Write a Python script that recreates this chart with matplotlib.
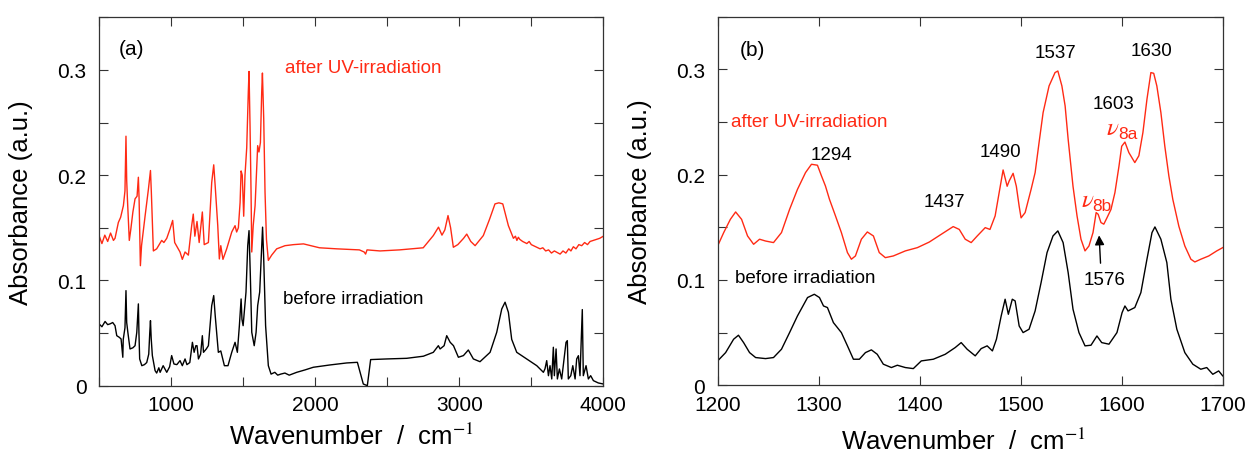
import numpy as np
import matplotlib
matplotlib.use("Agg")
import matplotlib.pyplot as plt
from matplotlib.ticker import MultipleLocator, FuncFormatter

plt.rcParams["font.family"] = ["Liberation Sans", "DejaVu Sans"]
plt.rcParams["mathtext.fontset"] = "stix"

RED = "#ff2a14"

# ---- panel (a): full range spectra, (wavenumber, absorbance)
wide_after_wn = [500, 520, 540, 560, 580, 600, 611, 634, 650, 669, 680, 687, 692, 697, 710, 720,
                 735, 750, 764, 773, 778, 787, 795, 820, 843, 857, 863, 877, 900, 935, 950, 970,
                 993, 1011, 1025, 1050, 1062, 1078, 1097, 1120, 1143, 1154, 1165, 1180, 1195, 1217,
                 1230, 1259, 1282, 1296, 1306, 1324, 1335, 1345, 1360, 1386, 1421, 1444, 1455, 1467,
                 1479, 1486, 1494, 1504, 1513, 1525, 1536, 1541, 1548, 1555, 1560, 1570, 1583, 1594,
                 1601, 1610, 1620, 1629, 1634, 1643, 1652, 1662, 1675, 1698, 1733, 1791, 1850, 1919,
                 2030, 2150, 2307, 2340, 2350, 2360, 2450, 2585, 2750, 2820, 2856, 2880, 2900, 2922,
                 2940, 2959, 2990, 3030, 3052, 3080, 3110, 3167, 3210, 3248, 3275, 3302, 3341, 3376,
                 3390, 3400, 3410, 3420, 3440, 3469, 3485, 3500, 3530, 3561, 3580, 3600, 3620, 3640,
                 3660, 3677, 3700, 3720, 3740, 3760, 3775, 3792, 3810, 3830, 3850, 3870, 3890, 3908,
                 3930, 3950, 3975, 4000]
wide_after_a = [0.1426, 0.135, 0.143, 0.137, 0.145, 0.138, 0.140, 0.155, 0.160, 0.171, 0.185, 0.237,
                0.195, 0.1775, 0.138, 0.148, 0.165, 0.1775, 0.180, 0.198, 0.1775, 0.114, 0.133, 0.1616,
                0.187, 0.2044, 0.184, 0.128, 0.130, 0.138, 0.136, 0.140, 0.149, 0.157, 0.136, 0.130,
                0.127, 0.120, 0.127, 0.124, 0.152, 0.163, 0.142, 0.156, 0.136, 0.165, 0.134, 0.136,
                0.193, 0.2098, 0.190, 0.152, 0.1204, 0.133, 0.120, 0.130, 0.146, 0.152, 0.146, 0.150,
                0.174, 0.204, 0.200, 0.161, 0.200, 0.226, 0.279, 0.2985, 0.247, 0.184, 0.127, 0.152,
                0.171, 0.206, 0.228, 0.222, 0.231, 0.279, 0.297, 0.2535, 0.184, 0.139, 0.119, 0.124,
                0.130, 0.133, 0.134, 0.1347, 0.131, 0.130, 0.129, 0.127, 0.125, 0.129, 0.128, 0.129,
                0.131, 0.1426, 0.1506, 0.143, 0.148, 0.1616, 0.150, 0.1315, 0.134, 0.140, 0.144,
                0.137, 0.133, 0.1426, 0.158, 0.1727, 0.1737, 0.1727, 0.152, 0.140, 0.142, 0.138,
                0.141, 0.139, 0.137, 0.135, 0.137, 0.134, 0.132, 0.130, 0.131, 0.128, 0.129, 0.126,
                0.128, 0.1267, 0.125, 0.128, 0.126, 0.130, 0.128, 0.132, 0.130, 0.134, 0.133, 0.136,
                0.134, 0.137, 0.138, 0.139, 0.140, 0.142]

wide_before_wn = [500, 520, 542, 560, 576, 595, 611, 623, 640, 653, 665, 668, 680, 687, 692, 700,
                  715, 735, 750, 762, 773, 777, 782, 797, 815, 831, 845, 852, 857, 862, 870, 889,
                  900, 915, 924, 945, 970, 990, 1004, 1020, 1040, 1062, 1078, 1097, 1110, 1130, 1148,
                  1160, 1172, 1180, 1190, 1205, 1217, 1225, 1245, 1259, 1282, 1296, 1306, 1328, 1345,
                  1370, 1395, 1421, 1444, 1460, 1474, 1486, 1492, 1500, 1520, 1532, 1541, 1550, 1560,
                  1577, 1590, 1601, 1615, 1629, 1635, 1643, 1656, 1675, 1694, 1720, 1740, 1761, 1790,
                  1820, 1872, 1930, 1987, 2103, 2219, 2293, 2312, 2334, 2362, 2375, 2385, 2496, 2635,
                  2751, 2820, 2855, 2867, 2895, 2913, 2937, 2960, 2994, 3029, 3063, 3098, 3144, 3214,
                  3260, 3295, 3318, 3341, 3364, 3399, 3468, 3538, 3584, 3595, 3607, 3619, 3630, 3642,
                  3653, 3660, 3672, 3681, 3695, 3711, 3727, 3741, 3750, 3757, 3774, 3788, 3804, 3815,
                  3827, 3838, 3854, 3861, 3880, 3896, 3912, 3931, 3965, 4000]
wide_before_a = [0.0587, 0.056, 0.061, 0.058, 0.0587, 0.060, 0.057, 0.0475, 0.046, 0.0444, 0.027,
                 0.044, 0.055, 0.0903, 0.060, 0.0507, 0.0349, 0.036, 0.038, 0.0507, 0.0777, 0.050,
                 0.0254, 0.019, 0.020, 0.022, 0.030, 0.050, 0.0618, 0.045, 0.0286, 0.0143, 0.012,
                 0.017, 0.0127, 0.019, 0.0127, 0.018, 0.0286, 0.0206, 0.020, 0.0238, 0.019, 0.0254,
                 0.020, 0.022, 0.0412, 0.0317, 0.038, 0.038, 0.0254, 0.030, 0.0475, 0.0317, 0.035,
                 0.038, 0.076, 0.0856, 0.067, 0.0317, 0.033, 0.019, 0.019, 0.0317, 0.0412, 0.0317,
                 0.057, 0.0824, 0.063, 0.057, 0.089, 0.133, 0.1473, 0.105, 0.0507, 0.038, 0.0507,
                 0.076, 0.089, 0.133, 0.1506, 0.120, 0.057, 0.019, 0.011, 0.0127, 0.010, 0.011, 0.012,
                 0.010, 0.0127, 0.015, 0.0175, 0.0197, 0.0216, 0.0222, 0.0127, 0.0016, 0.0, 0.0143,
                 0.0248, 0.0254, 0.026, 0.028, 0.0317, 0.038, 0.0349, 0.038, 0.0475, 0.0412, 0.038,
                 0.027, 0.0286, 0.0339, 0.0254, 0.0228, 0.0317, 0.0507, 0.0729, 0.0793, 0.0697, 0.044,
                 0.0317, 0.0254, 0.019, 0.0127, 0.016, 0.0238, 0.0095, 0.019, 0.0064, 0.0365, 0.0095,
                 0.0349, 0.0064, 0.0159, 0.0064, 0.0254, 0.0412, 0.0428, 0.0064, 0.0095, 0.019, 0.0064,
                 0.0254, 0.0285, 0.0095, 0.0723, 0.0095, 0.019, 0.0064, 0.0095, 0.0048, 0.0026, 0.0016]

# ---- panel (b): 1200-1700 region
zoom_after_wn = [1200, 1206, 1212.6, 1217.8, 1223.7, 1229.6, 1235.6, 1241.5, 1247.4, 1255.3, 1263.2,
                 1271.2, 1279, 1287, 1292.9, 1298.8, 1302.8, 1306.7, 1310.7, 1316.6, 1322.5, 1328.5,
                 1332.4, 1336.4, 1342.3, 1348.2, 1354.2, 1360, 1366, 1373.9, 1385.8, 1397.7, 1409.5,
                 1421.4, 1433.2, 1439.2, 1445.1, 1451, 1457, 1464.9, 1469.6, 1474.7, 1478.7, 1482.6,
                 1486.6, 1488.6, 1492.5, 1495.7, 1498.5, 1500.4, 1504.4, 1510.3, 1514.3, 1518.2,
                 1522.2, 1528.1, 1534, 1536.8, 1540.8, 1544, 1547, 1551.8, 1555.8, 1559.7, 1563.7,
                 1567.6, 1571.6, 1574.7, 1576.7, 1579.5, 1582.3, 1585.4, 1589.4, 1593.3, 1597.3, 1600,
                 1603.2, 1607.1, 1613, 1617, 1621, 1625, 1628.9, 1631.7, 1634.8, 1638.8, 1642.7,
                 1646.7, 1650.6, 1656.6, 1662.5, 1668.5, 1672.4, 1678.3, 1686.2, 1694.1, 1700]
zoom_after_a = [0.1323, 0.145, 0.1576, 0.1646, 0.1576, 0.1418, 0.1339, 0.1387, 0.137, 0.1355, 0.145,
                0.167, 0.186, 0.202, 0.2099, 0.209, 0.1988, 0.1893, 0.1766, 0.161, 0.145, 0.126, 0.1197,
                0.1228, 0.1387, 0.1456, 0.1418, 0.126, 0.1212, 0.1228, 0.1276, 0.1307, 0.136, 0.1434,
                0.1507, 0.148, 0.1387, 0.1355, 0.1418, 0.1497, 0.148, 0.1608, 0.183, 0.2045, 0.189,
                0.194, 0.2013, 0.189, 0.170, 0.159, 0.164, 0.186, 0.202, 0.2305, 0.259, 0.2843, 0.297,
                0.2985, 0.2843, 0.2653, 0.2336, 0.189, 0.1608, 0.1387, 0.1276, 0.1323, 0.145, 0.164,
                0.1624, 0.1545, 0.153, 0.159, 0.167, 0.183, 0.208, 0.227, 0.231, 0.221, 0.2115, 0.218,
                0.240, 0.2716, 0.297, 0.2963, 0.2843, 0.259, 0.227, 0.1988, 0.1766, 0.151, 0.1323,
                0.1197, 0.1171, 0.1197, 0.1228, 0.1276, 0.1307]

zoom_before_wn = [1200, 1207.9, 1215.8, 1220.6, 1225.7, 1231.6, 1237.6, 1247.4, 1255.3, 1263.2,
                  1271.2, 1279, 1289, 1295.7, 1300.8, 1304.8, 1308.7, 1314.6, 1322.5, 1328.5, 1334.4,
                  1340.3, 1346.3, 1352.2, 1358, 1364, 1372, 1377.9, 1385.8, 1393.7, 1401.6, 1413.5,
                  1425.3, 1435.2, 1441.1, 1447, 1455, 1460.9, 1466.8, 1472, 1476, 1480.7, 1484.6,
                  1487.8, 1491.7, 1494.5, 1498.5, 1502.4, 1508.3, 1514.3, 1520.2, 1526.1, 1532, 1536.8,
                  1542, 1547, 1551.8, 1557.7, 1563.7, 1569.6, 1575.5, 1580.2, 1587.4, 1595.3, 1600.4,
                  1603.2, 1606.3, 1613, 1619, 1625, 1630, 1632.9, 1638.8, 1644.7, 1648.7, 1654.6,
                  1662.5, 1670.4, 1678.3, 1684.2, 1690.2, 1696, 1700]
zoom_before_a = [0.0231, 0.031, 0.0437, 0.0475, 0.0405, 0.031, 0.0263, 0.0253, 0.0263, 0.0342, 0.050,
                 0.0658, 0.0833, 0.0864, 0.0833, 0.0753, 0.0738, 0.0595, 0.050, 0.0374, 0.0247, 0.0247,
                 0.031, 0.0336, 0.0294, 0.020, 0.0168, 0.019, 0.0168, 0.0158, 0.0231, 0.0247, 0.0294,
                 0.0358, 0.0405, 0.0342, 0.0279, 0.0348, 0.0374, 0.0326, 0.0437, 0.0658, 0.0817, 0.0674,
                 0.0817, 0.0801, 0.0563, 0.050, 0.0532, 0.0706, 0.0975, 0.126, 0.1418, 0.1466, 0.1355,
                 0.107, 0.0722, 0.050, 0.0374, 0.038, 0.0468, 0.0405, 0.039, 0.050, 0.069, 0.0753,
                 0.0706, 0.0738, 0.088, 0.1197, 0.145, 0.1504, 0.1387, 0.1165, 0.0817, 0.0532, 0.031,
                 0.020, 0.0152, 0.0168, 0.0104, 0.0136, 0.0089]

# peak labels for panel (b): text, x, y
peak_labels = [("1294", 1313, 0.219), ("1437", 1425, 0.175), ("1490", 1480, 0.2225),
               ("1537", 1534, 0.316), ("1630", 1630, 0.3175), ("1603", 1592, 0.268),
               ("1576", 1583, 0.1007)]

# mode labels (nu + subscript), x, y of the nu
mode_labels = [("8a", 1591.5, 0.245), ("8b", 1566, 0.177)]


def y_fmt(v, pos):
    if abs(v) < 1e-9:
        return "0"
    if abs(v * 10 - round(v * 10)) < 1e-6:
        return "%.1f" % v
    return ""


def style_axes(ax):
    ax.tick_params(direction="in", top=True, right=True, length=6.5, width=0.8,
                   color="#333333", labelsize=15)
    ax.tick_params(axis="y", pad=9)
    ax.tick_params(axis="x", pad=7)
    for sp in ax.spines.values():
        sp.set_color("#333333")
        sp.set_linewidth(0.9)
    ax.set_ylim(0, 0.35)
    ax.yaxis.set_major_locator(MultipleLocator(0.05))
    ax.yaxis.set_major_formatter(FuncFormatter(y_fmt))
    ax.set_ylabel("Absorbance (a.u.)", fontsize=18.5)
    ax.yaxis.set_label_coords(-0.13, 0.5)


fig = plt.figure(figsize=(12.52, 4.56), dpi=100)

# panel (a)
ax1 = fig.add_axes([0.0791, 0.152, 0.4028, 0.808])
ax1.plot(wide_after_wn, wide_after_a, color=RED, lw=1.0)
ax1.plot(wide_before_wn, wide_before_a, color="black", lw=1.0)
ax1.set_xlim(500, 4000)
ax1.xaxis.set_major_locator(MultipleLocator(500))
ax1.xaxis.set_major_formatter(FuncFormatter(lambda v, p: "%d" % v if v % 1000 == 0 else ""))
style_axes(ax1)
ax1.set_xlabel("Wavenumber  /  cm$^{-1}$", fontsize=18.5)
ax1.xaxis.set_label_coords(0.5, -0.1)
ax1.text(640, 0.32, "(a)", fontsize=15, va="center")
ax1.text(1789, 0.3027, "after UV-irradiation", color=RED, fontsize=13.5, va="center")
ax1.text(1780, 0.083, "before irradiation", color="black", fontsize=13.5, va="center")

# panel (b)
ax2 = fig.add_axes([0.5732, 0.153, 0.4034, 0.808])
ax2.plot(zoom_after_wn, zoom_after_a, color=RED, lw=1.0)
ax2.plot(zoom_before_wn, zoom_before_a, color="black", lw=1.0)
ax2.set_xlim(1200, 1700)
ax2.xaxis.set_major_locator(MultipleLocator(100))
style_axes(ax2)
ax2.set_xlabel("Wavenumber  /  cm$^{-1}$", fontsize=18.5)
ax2.xaxis.set_label_coords(0.486, -0.115)
ax2.text(1222, 0.319, "(b)", fontsize=15, va="center")
ax2.text(1213.5, 0.251, "after UV-irradiation", color=RED, fontsize=13.5, va="center")
ax2.text(1217.5, 0.102, "before irradiation", color="black", fontsize=13.5, va="center")
for lab, x, y in peak_labels:
    ax2.text(x, y, lab, fontsize=13.5, ha="center", va="center")
for sub, x, y in mode_labels:
    ax2.text(x, y, r"$\nu$", color=RED, fontsize=18, ha="center", va="center")
    ax2.annotate(sub, xy=(x, y), xytext=(3.5, -4.5), textcoords="offset points",
                 color=RED, fontsize=12.5, ha="left", va="center")
ax2.annotate("", xy=(1577.5, 0.145), xytext=(1579.2, 0.1133),
             arrowprops=dict(arrowstyle="-|>", color="black", lw=1.0, mutation_scale=14))

fig.savefig("out.png", dpi=100)
